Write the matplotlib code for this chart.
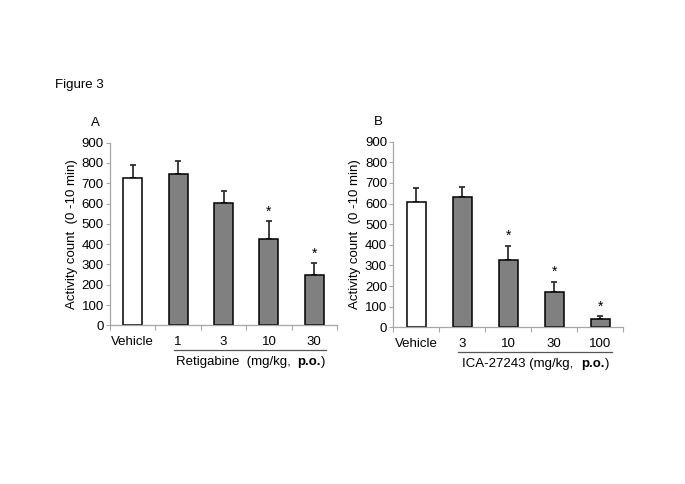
import matplotlib
matplotlib.use("Agg")
import matplotlib.pyplot as plt
from matplotlib.offsetbox import TextArea, HPacker, AnnotationBbox

plt.rcParams['font.family'] = ['Liberation Sans', 'DejaVu Sans']

# Panel A data
cats_a = ["Vehicle", "1", "3", "10", "30"]
vals_a = [727, 745, 601, 424, 250]
errs_a = [63, 66, 62, 91, 58]
sig_a = [False, False, False, True, True]
drug_a = "Retigabine  (mg/kg,  "

# Panel B data
cats_b = ["Vehicle", "3", "10", "30", "100"]
vals_b = [609, 630, 325, 173, 42]
errs_b = [65, 49, 71, 48, 11]
sig_b = [False, False, True, True, True]
drug_b = "ICA-27243 (mg/kg,  "

route = "p.o."
yticks = [0, 100, 200, 300, 400, 500, 600, 700, 800, 900]
ylabel = "Activity count  (0 -10 min)"

fig = plt.figure(figsize=(6.85, 4.84), dpi=100)
fig.patch.set_facecolor("white")

FS = 9.5
fig.text(55/685, 1 - 85/484, "Figure 3", fontsize=FS, va="center", ha="left")

spine_col = "#a6a6a6"

def panel(rect, cats, vals, errs, sig, drug, letter):
    ax = fig.add_axes(rect)
    x = list(range(len(cats)))
    colors = ["white"] + ["#808080"] * (len(cats) - 1)
    ax.bar(x, vals, width=0.42, color=colors, edgecolor="black", linewidth=1.1, zorder=2)
    ax.errorbar(x, vals, yerr=[[0]*len(vals), errs], fmt="none", ecolor="#303030",
                elinewidth=1.3, capsize=2.5, capthick=1.3, zorder=1)
    for xi, v, e, s in zip(x, vals, errs, sig):
        if s:
            ax.text(xi, v + e + 12, "*", ha="center", va="bottom", fontsize=10)
    ax.set_xlim(-0.5, len(cats) - 0.5)
    ax.set_ylim(0, 900)
    ax.set_yticks(yticks)
    ax.set_yticklabels([str(t) for t in yticks], fontsize=FS)
    ax.set_xticks(x)
    ax.set_xticklabels(cats, fontsize=FS)
    ax.set_xticks([i - 0.5 for i in range(len(cats) + 1)], minor=True)
    ax.tick_params(axis="x", which="major", length=0, pad=7.5)
    ax.tick_params(axis="x", which="minor", length=3.5, color=spine_col, width=0.8)
    ax.tick_params(axis="y", length=3, color=spine_col, width=0.8, pad=1.5)
    for s in ["top", "right"]:
        ax.spines[s].set_visible(False)
    for s in ["left", "bottom"]:
        ax.spines[s].set_color(spine_col)
        ax.spines[s].set_linewidth(0.9)
    ax.set_ylabel(ylabel, fontsize=FS)
    w = rect[2] * 685
    h = rect[3] * 484
    ax.yaxis.set_label_coords(-32 / w, 0.5)
    # underline and drug label
    trans = ax.get_xaxis_transform()
    ax.plot([0.9, len(cats) - 0.75], [-25 / h, -25 / h], transform=trans,
            color="#555555", linewidth=0.9, clip_on=False)
    parts = [TextArea(drug, textprops=dict(fontsize=FS)),
             TextArea(route, textprops=dict(fontsize=FS, fontweight="bold")),
             TextArea(")", textprops=dict(fontsize=FS))]
    box = HPacker(children=parts, align="baseline", pad=0, sep=0)
    ab = AnnotationBbox(box, ((0.9 + len(cats) - 0.75) / 2 + 0.02, -37 / h),
                        xycoords=trans, frameon=False, box_alignment=(0.5, 0.5),
                        annotation_clip=False)
    ax.add_artist(ab)
    ax.text(-0.5 - 15 / (w / len(cats)), 900 + 20 * 900 / h, letter, ha="center",
            va="center", fontsize=FS, clip_on=False)
    return ax

panel([110/685, 1 - 325.3/484, 227/685, 182.6/484], cats_a, vals_a, errs_a, sig_a, drug_a, "A")
panel([393.3/685, 1 - 327.3/484, 230/685, 185.6/484], cats_b, vals_b, errs_b, sig_b, drug_b, "B")

fig.savefig("out.png", dpi=100)
